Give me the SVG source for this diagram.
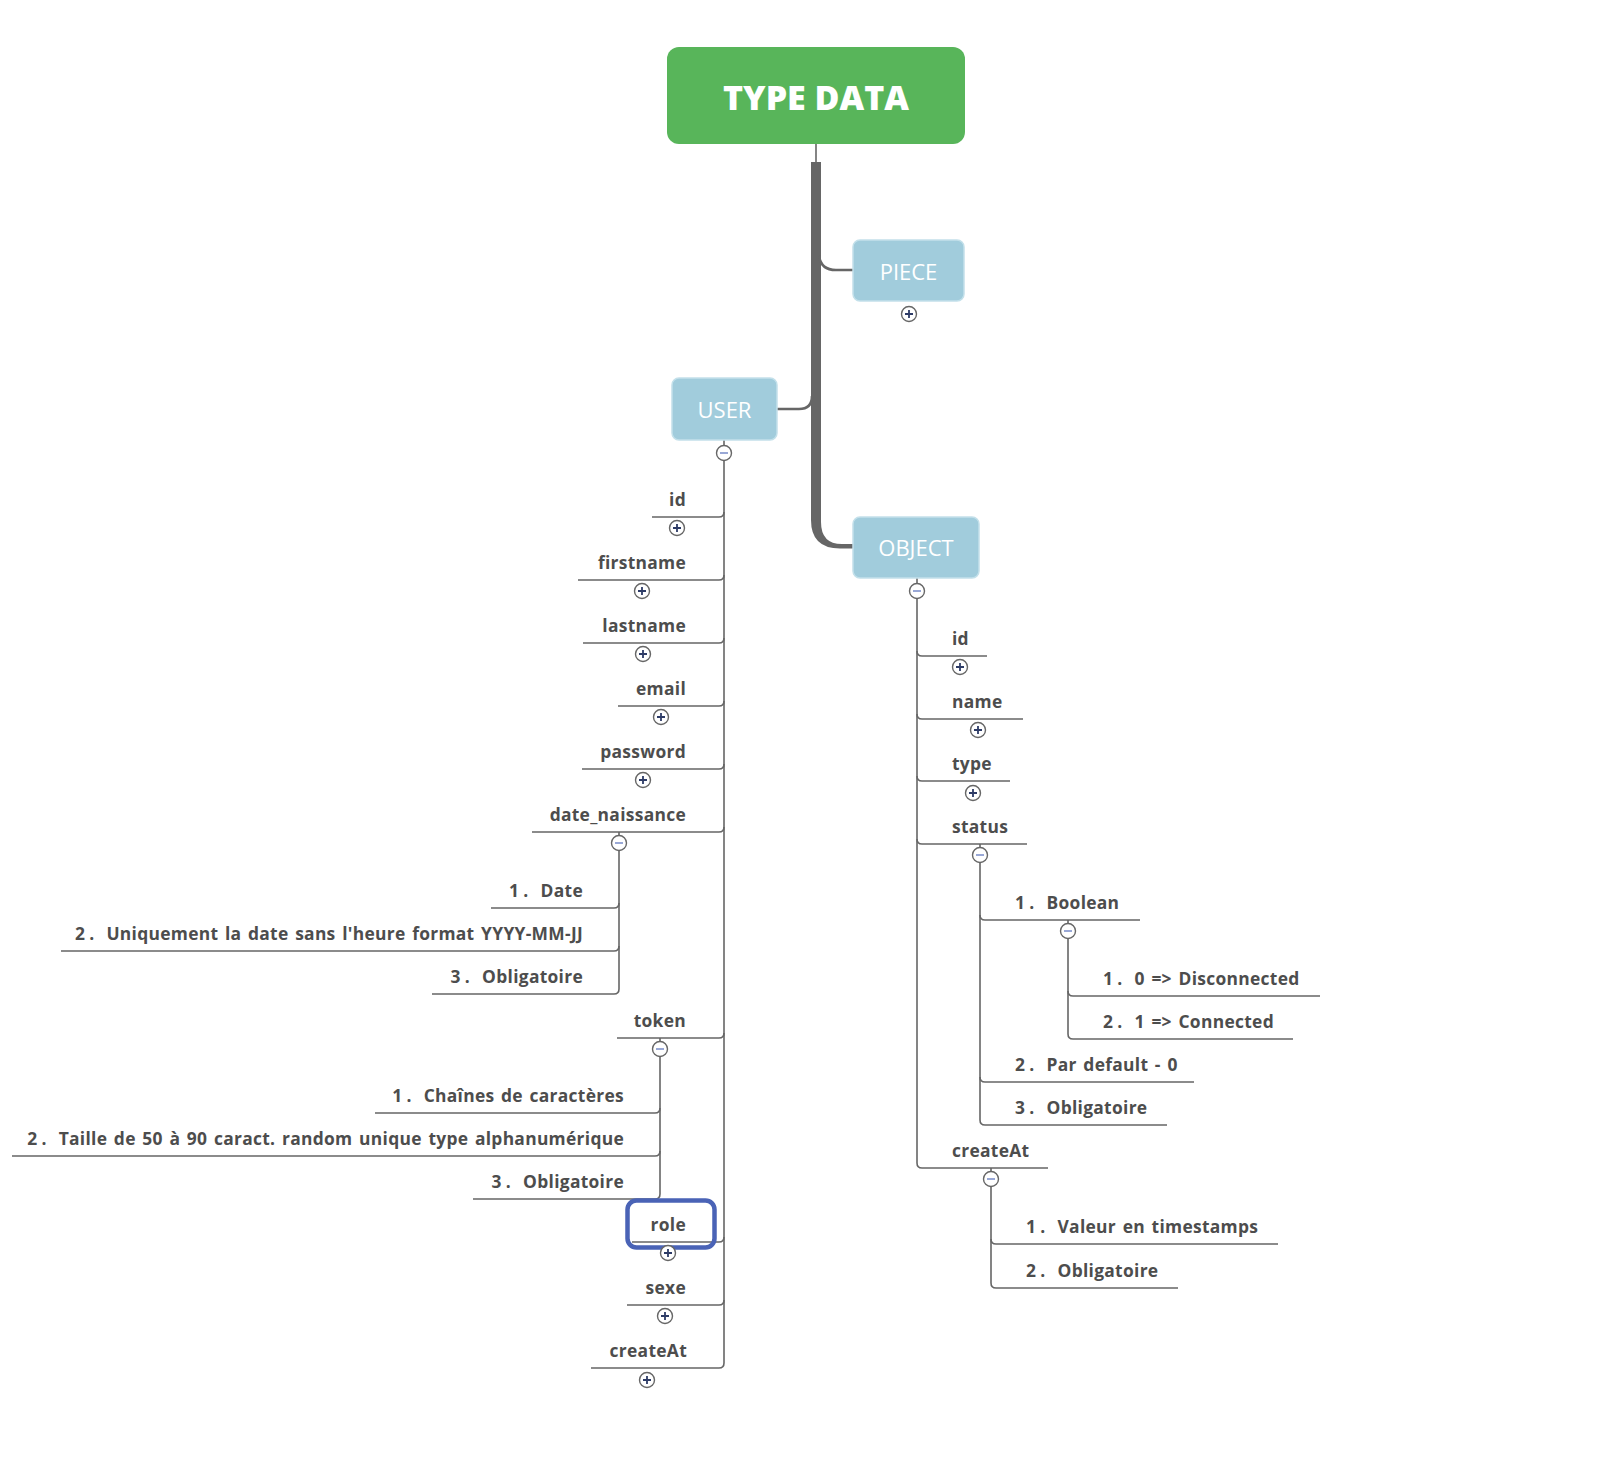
<svg xmlns="http://www.w3.org/2000/svg" width="1608" height="1480" viewBox="0 0 1608 1480">
<style>
.lbl{font-family:"Open Sans","Liberation Sans",sans-serif;font-weight:700;font-size:17.4px;fill:#4d4d4d;letter-spacing:0.3px}
.num{word-spacing:1.8px}
.end{text-anchor:end}
.ln{fill:none;stroke:#666;stroke-width:1.6}
.br{fill:none;stroke:#666;stroke-width:2.6}
.topic{fill:#a1ccdc;stroke:#c3e0ea;stroke-width:1.5}
.tt{font-family:"Open Sans","Liberation Sans",sans-serif;font-size:22px;fill:#fff;text-anchor:middle}
.tog{fill:#fff;stroke:#666;stroke-width:1.4}
.pl{stroke:#2d3b66;stroke-width:1.8}
.mn{stroke:#8e9fd2;stroke-width:1.8}
</style>
<defs>
<g id="plus"><circle class="tog" r="7.5"/><path class="pl" d="M-4,0H4M0,-4V4"/></g>
<g id="minus"><circle class="tog" r="7.5"/><path class="mn" d="M-4,0H4"/></g>
</defs>
<rect width="1608" height="1480" fill="#fff"/>

<g id="connectors">
<path d="M816,144V163" class="ln" stroke-width="2"/>
<path d="M811,162H821V522Q821,544 842,544H853V548.5H840Q811,548.5 811,520Z" fill="#666"/>
<path class="br" d="M819,256Q821,270 836,270H853"/>
<path class="br" d="M777,409H799Q812,409 812,396"/>
<path class="ln" d="M724,440V445M724,461V1363"/>
<path class="ln" d="M652,517H719Q724,517 724,512"/>
<path class="ln" d="M578,580H719Q724,580 724,575"/>
<path class="ln" d="M583,643H719Q724,643 724,638"/>
<path class="ln" d="M618,706H719Q724,706 724,701"/>
<path class="ln" d="M582,769H719Q724,769 724,764"/>
<path class="ln" d="M532,832H719Q724,832 724,827"/>
<path class="ln" d="M617,1038H719Q724,1038 724,1033"/>
<path class="ln" d="M632,1242H719Q724,1242 724,1237"/>
<path class="ln" d="M627,1305H719Q724,1305 724,1300"/>
<path class="ln" d="M591,1368H719Q724,1368 724,1363"/>
<path class="ln" d="M619,832V835.5M619,850.5V989"/>
<path class="ln" d="M491,908H614Q619,908 619,903"/>
<path class="ln" d="M61,951H614Q619,951 619,946"/>
<path class="ln" d="M432,994H614Q619,994 619,989"/>
<path class="ln" d="M660,1038V1041.5M660,1056.5V1194"/>
<path class="ln" d="M375,1113H655Q660,1113 660,1108"/>
<path class="ln" d="M12,1156H655Q660,1156 660,1151"/>
<path class="ln" d="M473,1199H655Q660,1199 660,1194"/>
<path class="ln" d="M917,578V583.5M917,598.5V1163"/>
<path class="ln" d="M917,651Q917,656 922,656H987"/>
<path class="ln" d="M917,714Q917,719 922,719H1023"/>
<path class="ln" d="M917,776Q917,781 922,781H1010"/>
<path class="ln" d="M917,839Q917,844 922,844H1027"/>
<path class="ln" d="M917,1163Q917,1168 922,1168H1048"/>
<path class="ln" d="M980,844V847.5M980,862.5V1120"/>
<path class="ln" d="M980,915Q980,920 985,920H1140"/>
<path class="ln" d="M980,1077Q980,1082 985,1082H1194"/>
<path class="ln" d="M980,1120Q980,1125 985,1125H1167"/>
<path class="ln" d="M1068,920V923.5M1068,938.5V1034"/>
<path class="ln" d="M1068,991Q1068,996 1073,996H1320"/>
<path class="ln" d="M1068,1034Q1068,1039 1073,1039H1293"/>
<path class="ln" d="M991,1168V1171.5M991,1186.5V1283"/>
<path class="ln" d="M991,1239Q991,1244 996,1244H1278"/>
<path class="ln" d="M991,1283Q991,1288 996,1288H1178"/>
</g>

<g id="type-data">
<rect x="667" y="47" width="298" height="97" rx="12" fill="#58b55a"/>
<text x="816" y="110" font-family="'Open Sans','Liberation Sans',sans-serif" font-weight="800" font-size="34" fill="#fff" text-anchor="middle">TYPE DATA</text>
</g>
<g id="piece">
<rect class="topic" x="853" y="240" width="111" height="61" rx="7"/>
<text class="tt" x="908.5" y="280">PIECE</text>
<use href="#plus" x="909" y="314"/>
</g>
<g id="user">
<rect class="topic" x="672" y="378" width="105" height="62" rx="7"/>
<text class="tt" x="724.5" y="418">USER</text>
<use href="#minus" x="724" y="453"/>
</g>
<g id="object">
<rect class="topic" x="853" y="517" width="126" height="61" rx="7"/>
<text class="tt" x="916" y="556">OBJECT</text>
<use href="#minus" x="917" y="591"/>
</g>

<g id="user-id"><text class="lbl end" x="686" y="506">id</text><use href="#plus" x="677" y="528"/></g>
<g id="user-firstname"><text class="lbl end" x="686" y="569">firstname</text><use href="#plus" x="642" y="591"/></g>
<g id="user-lastname"><text class="lbl end" x="686" y="632">lastname</text><use href="#plus" x="643" y="654"/></g>
<g id="user-email"><text class="lbl end" x="686" y="695">email</text><use href="#plus" x="661" y="717"/></g>
<g id="user-password"><text class="lbl end" x="686" y="758">password</text><use href="#plus" x="643" y="780"/></g>
<g id="user-date_naissance"><text class="lbl end" x="686" y="821">date_naissance</text><use href="#minus" x="619" y="843"/></g>
<g id="dn-1"><text class="lbl num end" x="583" y="897"><tspan>1</tspan><tspan dx="4">.</tspan><tspan dx="12">Date</tspan></text></g>
<g id="dn-2"><text class="lbl num end" x="583" y="940"><tspan>2</tspan><tspan dx="4">.</tspan><tspan dx="12">Uniquement la date sans l'heure format YYYY-MM-JJ</tspan></text></g>
<g id="dn-3"><text class="lbl num end" x="583" y="983"><tspan>3</tspan><tspan dx="4">.</tspan><tspan dx="12">Obligatoire</tspan></text></g>
<g id="user-token"><text class="lbl end" x="686" y="1027">token</text><use href="#minus" x="660" y="1049"/></g>
<g id="tk-1"><text class="lbl num end" x="624" y="1102"><tspan>1</tspan><tspan dx="4">.</tspan><tspan dx="12">Chaînes de caractères</tspan></text></g>
<g id="tk-2"><text class="lbl num end" x="624" y="1145"><tspan>2</tspan><tspan dx="4">.</tspan><tspan dx="12">Taille de 50 à 90 caract. random unique type alphanumérique</tspan></text></g>
<g id="tk-3"><text class="lbl num end" x="624" y="1188"><tspan>3</tspan><tspan dx="4">.</tspan><tspan dx="12">Obligatoire</tspan></text></g>
<g id="user-role">
<rect x="627.5" y="1200.5" width="87" height="47" rx="9" fill="none" stroke="#4a63b6" stroke-width="4.5"/>
<text class="lbl end" x="686" y="1231">role</text><use href="#plus" x="668" y="1253"/></g>
<g id="user-sexe"><text class="lbl end" x="686" y="1294">sexe</text><use href="#plus" x="665" y="1316"/></g>
<g id="user-createAt"><text class="lbl end" x="687" y="1357">createAt</text><use href="#plus" x="647" y="1380"/></g>

<g id="obj-id"><text class="lbl" x="952" y="645">id</text><use href="#plus" x="960" y="667"/></g>
<g id="obj-name"><text class="lbl" x="952" y="708">name</text><use href="#plus" x="978" y="730"/></g>
<g id="obj-type"><text class="lbl" x="952" y="770">type</text><use href="#plus" x="973" y="793"/></g>
<g id="obj-status"><text class="lbl" x="952" y="833">status</text><use href="#minus" x="980" y="855"/></g>
<g id="st-1"><text class="lbl num" x="1015" y="909"><tspan>1</tspan><tspan dx="4">.</tspan><tspan dx="12">Boolean</tspan></text><use href="#minus" x="1068" y="931"/></g>
<g id="bo-1"><text class="lbl num" x="1103" y="985"><tspan>1</tspan><tspan dx="4">.</tspan><tspan dx="12">0 =&gt; Disconnected</tspan></text></g>
<g id="bo-2"><text class="lbl num" x="1103" y="1028"><tspan>2</tspan><tspan dx="4">.</tspan><tspan dx="12">1 =&gt; Connected</tspan></text></g>
<g id="st-2"><text class="lbl num" x="1015" y="1071"><tspan>2</tspan><tspan dx="4">.</tspan><tspan dx="12">Par default - 0</tspan></text></g>
<g id="st-3"><text class="lbl num" x="1015" y="1114"><tspan>3</tspan><tspan dx="4">.</tspan><tspan dx="12">Obligatoire</tspan></text></g>
<g id="obj-createAt"><text class="lbl" x="952" y="1157">createAt</text><use href="#minus" x="991" y="1179"/></g>
<g id="ca-1"><text class="lbl num" x="1026" y="1233"><tspan>1</tspan><tspan dx="4">.</tspan><tspan dx="12">Valeur en timestamps</tspan></text></g>
<g id="ca-2"><text class="lbl num" x="1026" y="1277"><tspan>2</tspan><tspan dx="4">.</tspan><tspan dx="12">Obligatoire</tspan></text></g>
</svg>
